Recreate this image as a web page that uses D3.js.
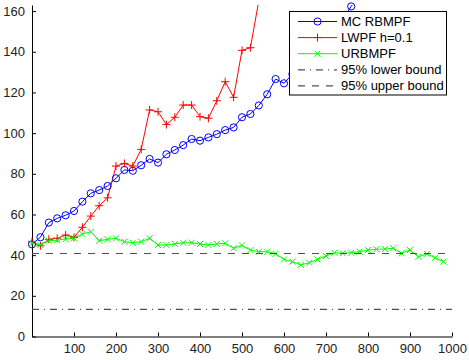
<!DOCTYPE html>
<html>
<head>
<meta charset="utf-8">
<script src="https://cdn.jsdelivr.net/npm/d3@7"></script>
<style>
  body { margin: 0; background: #fff; }
  svg text { font-family: "Liberation Sans", Arial, sans-serif; }
</style>
</head>
<body>
<div id="chart"></div>
<script>
// iterations (x) and series values
const steps = [0, 20, 40, 60, 80, 100, 120, 140, 160, 180, 200, 220, 240, 260, 280, 300, 320, 340, 360, 380,
               400, 420, 440, 460, 480, 500, 520, 540, 560, 580, 600, 620, 640, 660, 680, 700, 720, 740, 760, 780,
               800, 820, 840, 860, 880, 900, 920, 940, 960, 980];

const mcRbmpf = [45.3, 48.8, 56.0, 58.1, 59.6, 61.7, 66.3, 70.4, 72.0, 74.0, 77.8, 81.9, 81.5, 84.2, 87.3, 85.5,
                 89.6, 91.7, 94.1, 97.1, 96.3, 97.9, 99.5, 101.5, 102.8, 107.8, 109.4, 113.6, 119.1, 126.6, 124.5,
                 129, 133, 137, 141, 145, 150, 156, 162.3, 168];

const lwpf = [46.6, 44.6, 47.8, 48.3, 49.9, 48.8, 53.7, 59.2, 64.3, 68.2, 83.8, 85.1, 83.8, 92.0, 111.4, 110.5,
              104.2, 107.8, 113.8, 113.8, 108.1, 107.3, 115.9, 125.3, 117.6, 140.7, 142.0, 165, 178];

const urbmpf = [45.8, 45.0, 47.1, 47.4, 47.9, 48.3, 50.4, 51.5, 47.1, 47.8, 48.3, 46.6, 46.1, 46.6, 48.3, 45.0,
                45.0, 45.5, 46.1, 46.1, 45.5, 45.0, 45.5, 45.8, 43.4, 44.8, 42.5, 41.7, 41.7, 40.6, 37.9, 36.8,
                35.2, 36.3, 37.9, 39.6, 41.2, 40.9, 41.2, 41.7, 42.5, 42.9, 43.0, 43.4, 40.9, 42.5, 39.2, 40.6,
                38.7, 36.8];

const lowerBound = 13.3;
const upperBound = 40.8;

const xTicks = [100, 200, 300, 400, 500, 600, 700, 800, 900, 1000];
const yTicks = [0, 20, 40, 60, 80, 100, 120, 140, 160];

const legendLabels = ["MC RBMPF", "LWPF h=0.1", "URBMPF", "95% lower bound", "95% upper bound"];

const width = 469, height = 360;
const x = d3.scaleLinear().domain([0, 1000]).range([32, 452]);
const y = d3.scaleLinear().domain([0, 163]).range([336.5, 5]);

const svg = d3.select("#chart").append("svg")
    .attr("width", width)
    .attr("height", height);

svg.append("defs").append("clipPath").attr("id", "plotClip")
  .append("rect")
    .attr("x", x(0)).attr("y", y(163))
    .attr("width", x(1000) - x(0)).attr("height", y(0) - y(163));

// axes (MATLAB style: ticks inside, no box)
const xAxis = svg.append("g")
    .attr("transform", `translate(0,${y(0)})`)
    .call(d3.axisBottom(x).tickValues(xTicks).tickFormat(d3.format("d"))
        .tickSizeInner(-4).tickSizeOuter(0).tickPadding(7));
const yAxis = svg.append("g")
    .attr("transform", `translate(${x(0)},0)`)
    .call(d3.axisLeft(y).tickValues(yTicks).tickFormat(d3.format("d"))
        .tickSizeInner(-4).tickSizeOuter(0).tickPadding(6));

[xAxis, yAxis].forEach(ax => {
    ax.select(".domain").attr("stroke", "#000").attr("stroke-width", 1);
    ax.selectAll(".tick line").attr("stroke", "#000");
    ax.selectAll("text").attr("font-size", 13).attr("fill", "#222")
      .attr("font-family", "'Liberation Sans', Arial, sans-serif");
});
yAxis.selectAll("text").attr("dx", "-1");

const plot = svg.append("g");
const clipped = plot.append("g").attr("clip-path", "url(#plotClip)");

const line = d3.line().x(d => x(d[0])).y(d => y(d[1]));

function pairs(vals) { return vals.map((v, i) => [steps[i], v]); }

function drawMarker(g, type, color, cx, cy) {
    if (type === "circle") {
        g.append("circle").attr("cx", cx).attr("cy", cy).attr("r", 3.6)
          .attr("fill", "none").attr("stroke", color).attr("stroke-width", 1);
    } else if (type === "plus") {
        g.append("path").attr("d", `M${cx - 4},${cy}H${cx + 4}M${cx},${cy - 4}V${cy + 4}`)
          .attr("stroke", color).attr("stroke-width", 1);
    } else if (type === "x") {
        g.append("path").attr("d", `M${cx - 3},${cy - 3}L${cx + 3},${cy + 3}M${cx - 3},${cy + 3}L${cx + 3},${cy - 3}`)
          .attr("stroke", color).attr("stroke-width", 1);
    }
}

const series = [
    { vals: mcRbmpf, color: "#0000ff", marker: "circle" },
    { vals: lwpf, color: "#ff0000", marker: "plus" },
    { vals: urbmpf, color: "#00ff00", marker: "x" }
];

series.forEach(s => {
    const data = pairs(s.vals);
    clipped.append("path").datum(data)
        .attr("d", line)
        .attr("fill", "none")
        .attr("stroke", s.color)
        .attr("stroke-width", 1);
    const mg = plot.append("g");
    data.filter(d => d[1] <= 163).forEach(d => drawMarker(mg, s.marker, s.color, x(d[0]), y(d[1])));
});

// confidence bounds
const boundColor = "#505050";
plot.append("line")
    .attr("x1", x(0)).attr("x2", x(1000))
    .attr("y1", y(lowerBound)).attr("y2", y(lowerBound))
    .attr("stroke", boundColor).attr("stroke-width", 1.2)
    .attr("stroke-dasharray", "7,5,1,5");
plot.append("line")
    .attr("x1", x(0)).attr("x2", x(1000))
    .attr("y1", y(upperBound)).attr("y2", y(upperBound))
    .attr("stroke", boundColor).attr("stroke-width", 1.2)
    .attr("stroke-dasharray", "7,7");

// legend
const legend = svg.append("g");
legend.append("rect")
    .attr("x", 289.5).attr("y", 11.5)
    .attr("width", 157).attr("height", 83.5)
    .attr("fill", "#fff").attr("stroke", "#000").attr("stroke-width", 1);

const legendItems = [
    { color: "#0000ff", marker: "circle", dash: null },
    { color: "#ff0000", marker: "plus", dash: null },
    { color: "#00ff00", marker: "x", dash: null },
    { color: boundColor, marker: null, dash: "7,5,1,5" },
    { color: boundColor, marker: null, dash: "7,7" }
];

legendItems.forEach((it, i) => {
    const ly = 21.5 + i * 16.1;
    const ln = legend.append("line")
        .attr("x1", 298).attr("x2", 337)
        .attr("y1", ly).attr("y2", ly)
        .attr("stroke", it.color)
        .attr("stroke-width", it.dash ? 1.2 : 1);
    if (it.dash) ln.attr("stroke-dasharray", it.dash);
    if (it.marker) drawMarker(legend, it.marker, it.color, 317.5, ly);
    legend.append("text")
        .attr("x", 341).attr("y", ly)
        .attr("dy", "0.35em")
        .attr("font-size", 13)
        .attr("fill", "#000")
        .text(legendLabels[i]);
});
</script>
</body>
</html>
